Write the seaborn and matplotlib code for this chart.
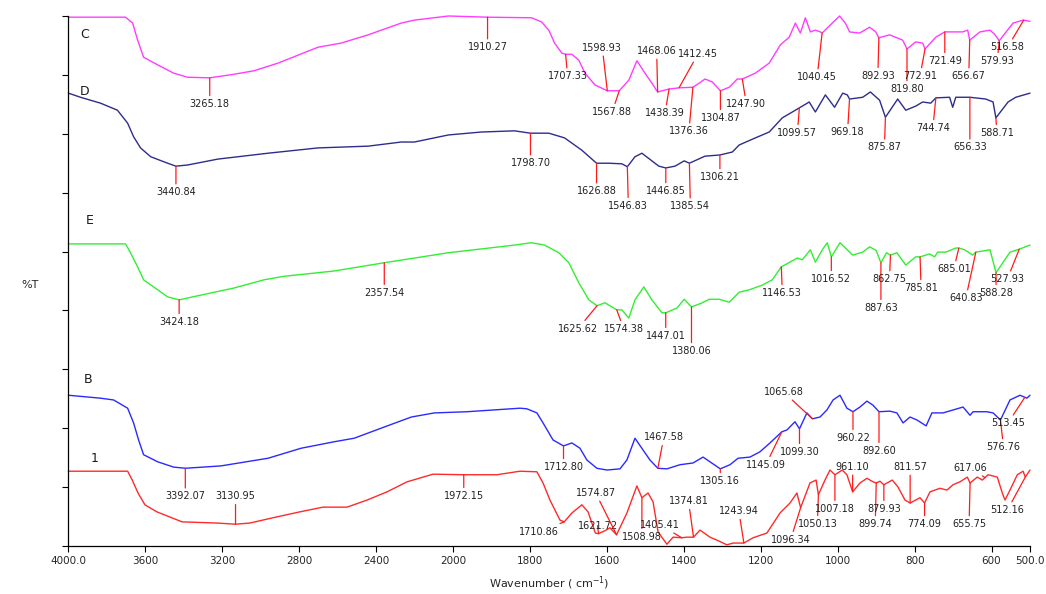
import numpy as np
import pandas as pd
import matplotlib
matplotlib.use("Agg")
import matplotlib.pyplot as plt
import seaborn as sns

# ---------------- spectra: wavenumber (cm-1) and %T of each stacked trace ----------------
c_wn = [4000, 3703, 3666, 3640, 3609, 3536, 3453, 3380, 3265.18, 3140, 3035, 2910, 2702, 2582,
        2441, 2373, 2269, 2201, 2024, 1910.27, 1796, 1770, 1751, 1736, 1717, 1707.33, 1691, 1673,
        1657, 1631, 1598.93, 1567.88, 1543, 1522, 1501, 1483, 1468.06, 1438.39, 1412.45, 1376.36,
        1360, 1345, 1326, 1304.87, 1282, 1261, 1247.90, 1214, 1178, 1149, 1126, 1110, 1097, 1084,
        1071, 1058, 1045, 1040.45, 1014, 995, 980, 969, 943, 917, 901, 892.93, 865, 831, 819.80,
        797, 779, 772.91, 745, 721.49, 675, 662, 656.67, 630, 604, 592, 579.93, 544, 518, 500]
c_t = [89.8, 89.8, 88.8, 85.9, 83.0, 81.7, 80.3, 79.6, 79.5, 80.1, 80.7, 82.0, 84.7, 85.4,
       86.8, 87.6, 88.8, 89.3, 90.0, 89.8, 89.7, 89.0, 87.6, 85.4, 83.7, 83.5, 83.5, 82.5,
       80.3, 78.3, 77.3, 77.3, 79.1, 82.4, 80.3, 78.6, 77.1, 77.6, 77.8, 77.9,
       78.6, 79.3, 78.8, 77.3, 77.9, 79.3, 79.3, 80.3, 82.0, 85.1, 86.4, 88.8, 87.1, 89.7,
       87.3, 87.6, 87.3, 87.1, 88.8, 90.0, 88.8, 87.3, 87.1, 88.1, 87.3, 86.3, 86.8, 85.9, 84.4,
       85.6, 85.4, 84.4, 86.4, 87.3, 87.3, 87.6, 85.9, 87.3, 87.6, 86.9, 85.8, 88.8, 89.3, 89.1]

d_wn = [4000, 3937, 3833, 3745, 3692, 3661, 3625, 3572, 3484, 3440.84, 3380, 3223, 2962, 2702,
        2441, 2269, 2201, 2024, 1926, 1840, 1798.70, 1751, 1710, 1665, 1626.88, 1595, 1561,
        1546.83, 1527, 1509, 1491, 1465, 1446.85, 1423, 1399, 1385.54, 1345, 1306.21, 1274, 1256,
        1214, 1178, 1144, 1110, 1099.57, 1074, 1058, 1032, 1008, 987, 975, 969.18, 935, 915, 891,
        875.87, 844, 823, 797, 779, 758, 744.74, 709, 701, 693, 656.33, 615, 596, 588.71, 557,
        537, 500]
d_t = [76.9, 76.2, 75.2, 74.0, 71.8, 69.5, 67.6, 66.1, 65.0, 64.5, 64.7, 65.7, 66.7, 67.6,
       67.9, 68.6, 68.6, 69.8, 70.3, 70.5, 70.1, 70.1, 69.3, 67.2, 65.0, 65.0, 64.9,
       64.4, 66.1, 66.7, 65.8, 64.5, 64.2, 64.5, 65.4, 65.0, 66.2, 66.4, 66.9, 68.1,
       69.3, 70.3, 72.7, 74.0, 74.4, 75.4, 73.7, 76.6, 74.5, 76.9, 76.6, 75.9, 76.2, 77.1, 75.7,
       72.8, 75.9, 74.0, 74.7, 75.4, 75.2, 76.1, 76.2, 74.5, 76.2, 76.2, 75.9, 75.4, 72.7, 75.4,
       76.2, 76.9]

e_wn = [4000, 3797, 3703, 3677, 3640, 3609, 3557, 3484, 3424.18, 3312, 3140, 2983, 2879, 2618,
        2357.54, 2024, 1840, 1796, 1762, 1725, 1699, 1673, 1647, 1625.62, 1605, 1574.38, 1561,
        1543, 1527, 1504, 1483, 1457, 1447.01, 1418, 1399, 1380.06, 1352, 1334, 1308, 1282, 1256,
        1230, 1196, 1170, 1146.53, 1105, 1092, 1071, 1058, 1040, 1027, 1016.52, 994, 961, 935,
        917, 900, 887.63, 873, 862.75, 846, 823, 797, 785.81, 761, 748, 740, 719, 693, 685.01,
        670, 649, 640.83, 604, 588.28, 552, 527.93, 500]
e_t = [51.3, 51.3, 51.3, 49.8, 47.4, 45.2, 44.0, 42.3, 41.8, 42.6, 43.8, 45.2, 45.8, 46.7,
       48.1, 49.8, 51.1, 51.5, 51.1, 49.8, 48.1, 44.7, 41.8, 40.8, 41.3, 40.1, 40.1,
       38.7, 41.8, 44.0, 41.8, 39.6, 39.6, 40.4, 41.9, 40.6, 41.3, 41.9, 41.9, 41.4, 43.1,
       43.5, 44.3, 45.2, 47.4, 48.9, 48.6, 50.3, 48.2, 50.3, 51.5, 49.1, 51.5, 49.4, 49.9,
       50.8, 50.2, 48.1, 49.8, 49.4, 49.8, 47.7, 49.1, 49.1, 49.6, 49.1, 49.9, 49.9, 50.6, 50.6,
       50.3, 49.4, 49.9, 50.3, 46.4, 49.9, 50.4, 51.1]

b_wn = [4000, 3833, 3765, 3692, 3661, 3635, 3609, 3536, 3453, 3392.07, 3207, 2962, 2790, 2618,
        2514, 2358, 2217, 2097, 1964, 1826, 1808, 1782, 1766, 1740, 1712.80, 1691, 1670, 1652,
        1626, 1600, 1566, 1548, 1527, 1506, 1488, 1467.58, 1444, 1410, 1376, 1350, 1332, 1305.16,
        1280, 1259, 1228, 1202, 1176, 1145.09, 1132, 1111, 1099.30, 1080, 1065.68, 1046, 1028,
        1012, 994, 976, 960.22, 942, 924, 908, 892.60, 864, 846, 830, 812, 794, 770, 755, 726,
        700, 674, 656, 648, 612, 596, 576.76, 552, 526, 508, 500]
b_t = [25.6, 25.1, 24.8, 23.4, 20.9, 18.0, 15.5, 14.3, 13.4, 13.2, 13.6, 14.9, 16.6, 17.7,
       18.3, 20.2, 21.9, 22.6, 22.8, 23.4, 23.3, 22.6, 20.9, 18.0, 17.0, 17.5, 16.6, 14.6,
       13.2, 12.9, 13.1, 14.6, 18.3, 16.3, 14.6, 13.2, 13.1, 13.8, 14.1, 15.1, 14.3, 13.1,
       13.8, 14.9, 15.1, 16.0, 17.5, 19.4, 19.7, 21.1, 19.9, 22.6, 21.6, 21.9, 23.1,
       24.8, 25.6, 23.4, 22.8, 23.6, 24.6, 23.9, 22.8, 22.9, 22.6, 20.9, 21.9, 21.4, 20.4, 22.6, 22.6,
       23.1, 23.6, 22.2, 22.8, 22.8, 22.6, 21.4, 24.8, 25.6, 25.1, 25.6]

s1_wn = [4000, 3692, 3668, 3638, 3602, 3540, 3409, 3227, 3130.95, 3056, 2936, 2796, 2676, 2551,
         2447, 2343, 2239, 2104, 1972.15, 1922, 1886, 1826, 1782, 1766, 1748, 1722, 1710.86, 1691,
         1665, 1649, 1630, 1621.72, 1605, 1592, 1574.87, 1548, 1522, 1508.98, 1493, 1480, 1467,
         1444, 1428, 1405.41, 1392, 1374.81, 1358, 1332, 1314, 1288, 1272, 1243.94, 1220, 1184,
         1150, 1124, 1106, 1096.34, 1072, 1056, 1050.13, 1033, 1020, 1007.18, 988, 976, 961.10,
         942, 924, 908, 899.74, 890, 879.93, 858, 843, 825, 811.57, 786, 774.09, 760, 734, 716,
         700, 682, 663, 655.75, 637, 624, 609, 585, 572, 565, 552, 533, 518, 512.16, 500]
s1_t = [12.7, 12.7, 11.2, 9.0, 7.0, 5.8, 4.1, 3.9, 3.7, 3.9, 4.8, 5.8, 6.6, 6.6,
        7.8, 9.2, 10.9, 12.2, 12.1, 12.1, 12.1, 12.7, 12.6, 10.7, 7.8, 4.4, 4.1, 5.6,
        7.0, 5.8, 2.2, 2.1, 2.6, 3.1, 1.9, 5.6, 10.2, 8.2, 9.0, 7.5, 2.4,
        0.3, 1.5, 1.4, 1.5, 1.5, 2.7, 1.5, 1.0, 0.2, 0.5, 0.5, 1.4, 2.2,
        5.6, 7.3, 9.0, 6.5, 10.7, 11.2, 8.7, 11.2, 12.9, 12.1, 12.9, 12.1, 9.2,
        10.7, 11.5, 10.9, 10.7, 11.0, 10.4, 11.2, 10.0, 7.8, 7.3, 8.2, 7.3, 9.2, 9.8, 9.5,
        10.4, 10.9, 11.7, 10.7, 11.7, 11.2, 12.1, 11.7, 9.0, 7.8, 9.5, 12.1, 12.7, 11.7, 12.9]

samples = ["C", "D", "E", "B", "1"]
spectra = {"C": (c_wn, c_t), "D": (d_wn, d_t), "E": (e_wn, e_t),
           "B": (b_wn, b_t), "1": (s1_wn, s1_t)}

# peak labels of each trace
c_peaks = ["3265.18", "1910.27", "1707.33", "1598.93", "1567.88", "1468.06", "1438.39", "1412.45",
           "1376.36", "1304.87", "1247.90", "1040.45", "892.93", "819.80", "772.91", "721.49",
           "656.67", "579.93", "516.58"]
d_peaks = ["3440.84", "1798.70", "1626.88", "1546.83", "1446.85", "1385.54", "1306.21", "1099.57",
           "969.18", "875.87", "744.74", "656.33", "588.71"]
e_peaks = ["3424.18", "2357.54", "1625.62", "1574.38", "1447.01", "1380.06", "1146.53", "1016.52",
           "887.63", "862.75", "785.81", "685.01", "640.83", "588.28", "527.93"]
b_peaks = ["3392.07", "1712.80", "1467.58", "1305.16", "1145.09", "1099.30", "1065.68", "960.22",
           "892.60", "576.76", "513.45"]
s1_peaks = ["3130.95", "1972.15", "1710.86", "1621.72", "1574.87", "1508.98", "1405.41", "1374.81",
            "1243.94", "1096.34", "1050.13", "1007.18", "961.10", "899.74", "879.93", "811.57",
            "774.09", "655.75", "617.06", "512.16"]

# ---------------- layout: label offsets (pixels) from each peak ----------------
c_offsets = [(0, -26), (0, -30), (2, -22), (-5, 43), (-7, -21), (-1, 41), (-4, -24), (19, 34),
             (-4, -44), (0, -27), (4, -25), (-5, -44), (-1, -38), (0, -40), (-5, -27), (0, -29),
             (-1, -36), (-2, -20), (-16, -27)]
d_offsets = [(0, -26), (0, -30), (0, -28), (1, -39), (0, -23), (1, -43), (0, -22), (-2, -25),
             (-2, -33), (-1, -30), (-3, -30), (0, -50), (1, -15)]
e_offsets = [(0, -22), (0, -30), (-19, -23), (7, -19), (0, -23), (0, -44), (1, -26), (0, -22),
             (0, -45), (-1, -24), (1, -31), (-5, -21), (-10, -46), (0, -20), (-12, -30)]
b_offsets = [(0, -28), (0, -21), (6, 31), (0, -12), (-16, -33), (0, -23), (-29, 27), (0, -26),
             (0, -39), (3, -27), (-17, -26)]
s1_offsets = [(0, 28), (0, -21), (-25, -10), (-1, 8), (-21, 42), (0, -39), (-22, 13), (-5, 36),
              (-5, 32), (-10, -32), (-1, -29), (0, -34), (0, 25), (-1, -41), (0, -24), (0, 36),
              (0, -21), (-1, -41), (-15, 10), (-18, -33)]

peak_sets = {"C": (c_peaks, c_offsets), "D": (d_peaks, d_offsets), "E": (e_peaks, e_offsets),
             "B": (b_peaks, b_offsets), "1": (s1_peaks, s1_offsets)}

palette = {"C": "#ff3cff", "D": "#2d2d8c", "E": "#33ee33", "B": "#2a2aff", "1": "#ff2a2a"}
sample_label_pos = {"C": (3914, 86.9), "D": (3914, 77.1), "E": (3888, 55.2),
                    "B": (3898, 28.2), "1": (3862, 14.8)}

df = pd.concat([pd.DataFrame({"wavenumber": spectra[s][0], "T": spectra[s][1], "sample": s})
                for s in samples], ignore_index=True)

sns.set_style("ticks")
plt.rcParams["font.family"] = ["DejaVu Sans"]

fig = plt.figure(figsize=(10.46, 5.94), dpi=100)
ax = fig.add_axes([68.4 / 1046, 48 / 594, (1030 - 68.4) / 1046, 530 / 594])


# the wavenumber axis is compressed by half above 2000 cm-1
def fwd(w):
    w = np.asarray(w, dtype=float)
    return np.where(w <= 2000, w, 2000 + (w - 2000) / 2)


def inv(t):
    t = np.asarray(t, dtype=float)
    return np.where(t <= 2000, t, 2000 + 2 * (t - 2000))


ax.set_xscale("function", functions=(fwd, inv))

sns.lineplot(data=df, x="wavenumber", y="T", hue="sample", palette=palette,
             estimator=None, sort=False, legend=False, linewidth=1.0, ax=ax)
for line in ax.lines:
    line.set_clip_on(False)

ax.set_xlim(4000, 500)
ax.set_ylim(0, 90)

xticks = [4000, 3600, 3200, 2800, 2400, 2000, 1800, 1600, 1400, 1200, 1000, 800, 600, 500]
xticklabels = ["4000.0", "3600", "3200", "2800", "2400", "2000", "1800", "1600", "1400",
               "1200", "1000", "800", "600", "500.0"]
ax.set_xticks(xticks)
ax.set_xticklabels(xticklabels)
ax.set_yticks(np.arange(0, 91, 10))
ax.set_yticklabels([])
ax.minorticks_off()
ax.tick_params(axis="both", direction="out", length=4, width=0.8, color="black",
               labelsize=7.5, pad=3)

for side in ["top", "right"]:
    ax.spines[side].set_visible(False)
for side in ["left", "bottom"]:
    ax.spines[side].set_color("black")
    ax.spines[side].set_linewidth(0.9)

ax.set_xlabel("Wavenumber ( cm$^{-1}$)", fontsize=8, labelpad=6)
ax.set_ylabel("%T", fontsize=8, rotation=0)
ax.yaxis.set_label_coords(-0.04, 0.483)

for s in samples:
    x, y = sample_label_pos[s]
    ax.text(x, y, s, fontsize=9, color="#1a1a1a", ha="center", va="center")

for s in samples:
    wn = np.asarray(spectra[s][0], dtype=float)
    t = np.asarray(spectra[s][1], dtype=float)
    order = np.argsort(wn)
    peaks, offs = peak_sets[s]
    for lab, (dx, dy) in zip(peaks, offs):
        p = float(lab)
        yv = float(np.interp(p, wn[order], t[order]))
        ax.annotate(lab, xy=(p, yv), xytext=(dx, dy), textcoords="offset pixels",
                    ha="center", va="center", fontsize=7, color="#222222",
                    annotation_clip=False,
                    arrowprops=dict(arrowstyle="-", color="#ff1a1a", lw=0.9,
                                    shrinkA=0, shrinkB=0))

fig.savefig("out.png", dpi=100)
